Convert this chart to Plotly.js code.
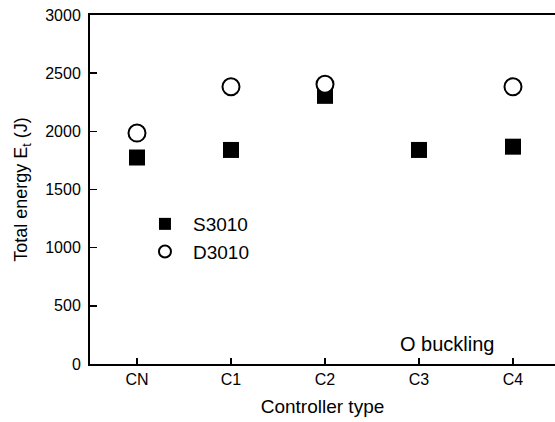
<!DOCTYPE html>
<html>
<head>
<meta charset="utf-8">
<script src="https://cdn.plot.ly/plotly-3.0.1.min.js"></script>
<style>html,body{margin:0;padding:0;background:#fff;overflow:hidden}</style>
</head>
<body>
<div id="chart" style="width:555px;height:422px"></div>
<script>
const categories = ["CN", "C1", "C2", "C3", "C4"];
const s3010 = [1775, 1840, 2305, 1840, 1868];
const d3010 = [1985, 2383, 2405, null, 2383];
const yTicks = [0, 500, 1000, 1500, 2000, 2500, 3000];
const FONT = "Liberation Sans, Arial, Helvetica, sans-serif";

const traces = [
  {x: categories, y: s3010, name: "S3010", type: "scatter", mode: "markers",
   marker: {symbol: "square", size: 16, color: "#000", line: {width: 0}}},
  {x: categories, y: d3010, name: "D3010", type: "scatter", mode: "markers",
   marker: {symbol: "circle", size: 17, color: "#fff", line: {width: 2, color: "#000"}}}
];

const layout = {
  width: 555, height: 422,
  margin: {l: 90, r: 0, t: 15, b: 58},
  paper_bgcolor: "#fff", plot_bgcolor: "#fff",
  font: {family: FONT, color: "#000", size: 16},
  showlegend: true,
  legend: {x: 0.101, y: 0.361, xanchor: "left", yanchor: "middle",
           font: {family: FONT, size: 19, color: "#000"},
           itemsizing: "constant", itemwidth: 46, bgcolor: "rgba(0,0,0,0)", tracegroupgap: 0},
  xaxis: {type: "category", categoryorder: "array", categoryarray: categories,
          range: [-0.5, 4.447], showgrid: false, zeroline: false,
          showline: true, linewidth: 2, linecolor: "#000", mirror: true,
          ticks: "inside", ticklen: 6, tickwidth: 1.5, tickcolor: "#000",
          tickfont: {size: 16},
          title: {text: "Controller type", font: {size: 19}, standoff: 12}},
  yaxis: {range: [0, 3000], tickvals: yTicks, showgrid: false, zeroline: false,
          showline: true, linewidth: 2, linecolor: "#000",
          ticks: "inside", ticklen: 7, tickwidth: 1.5, tickcolor: "#000",
          tickfont: {size: 16}, ticklabelstandoff: 4,
          title: {text: "Total energy E<sub>t</sub> (J)", font: {size: 18}, standoff: 13}},
  annotations: [
    {text: "O buckling", xref: "paper", yref: "paper", x: 0.768, y: 0.057,
     xanchor: "center", yanchor: "middle", showarrow: false,
     font: {family: FONT, size: 20, color: "#000"}}
  ]
};

Plotly.newPlot("chart", traces, layout, {displayModeBar: false, staticPlot: true});
</script>
</body>
</html>
